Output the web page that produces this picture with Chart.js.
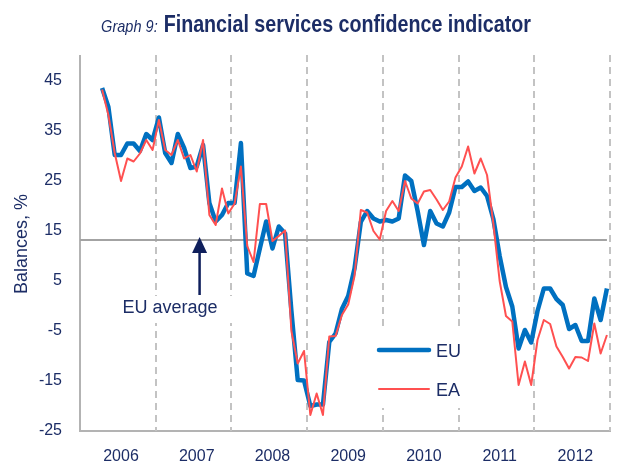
<!DOCTYPE html>
<html>
<head>
<meta charset="utf-8">
<script src="https://cdn.jsdelivr.net/npm/chart.js@4.4.1/dist/chart.umd.min.js"></script>
<style>
  html, body { margin: 0; padding: 0; background: #fff; }
  canvas { display: block; }
</style>
</head>
<body>
<canvas id="chart" width="623" height="468"></canvas>
<script>
// Graph 9: Financial services confidence indicator (monthly balances, %)
const years = ['2006', '2007', '2008', '2009', '2010', '2011', '2012']
const monthNames = ['Jan', 'Feb', 'Mar', 'Apr', 'May', 'Jun', 'Jul', 'Aug', 'Sep', 'Oct', 'Nov', 'Dec']
const months = years.flatMap((y) => monthNames.map((m) => m + ' ' + y))

const euValues = [
  null, null, null, 43.6, 39.8, 30.2, 30.2, 32.5, 32.5, 31.0, 34.4, 33.2,
  37.7, 30.6, 28.6, 34.4, 31.6, 27.6, 27.9, 32.2, 20.6, 16.9, 18.2, 20.6,
  20.6, 32.6, 6.5, 6.0, 11.5, 16.9, 11.5, 15.9, 14.5, -1.0, -14.8, -14.9,
  -20.0, -19.7, -19.7, -7.2, -5.5, -0.6, 2.0, 7.5, 16.8, 19.0, 17.5, 16.9,
  17.2, 16.9, 17.5, 26.1, 25.0, 19.0, 12.2, 19.0, 16.5, 15.9, 18.7, 23.8,
  23.8, 24.9, 23.0, 23.7, 22.0, 17.4, 10.0, 3.8, -0.1, -8.5, -4.8, -7.3,
  -1.0, 3.5, 3.5, 1.4, 0.2, -4.6, -3.8, -7.0, -7.0, 1.5, -2.8, 3.5
]
const eaValues = [
  null, null, null, 43.3, 38.2, 30.6, 25.0, 29.5, 28.9, 30.5, 33.2, 31.2,
  37.2, 31.2, 30.2, 33.2, 29.5, 30.2, 26.9, 33.2, 18.2, 16.2, 23.5, 18.5,
  20.5, 27.9, 12.0, 8.8, 20.4, 20.4, 13.0, 14.0, 15.1, -5.0, -11.5, -9.0,
  -21.8, -17.5, -21.8, -6.1, -6.0, -1.8, 0.3, 6.0, 19.2, 18.7, 15.0, 13.3,
  19.0, 21.0, 19.0, 25.0, 21.5, 20.5, 22.9, 23.2, 21.3, 19.2, 20.9, 25.7,
  27.9, 31.9, 26.5, 29.5, 26.2, 16.5, 5.0, -2.0, -3.1, -15.8, -11.1, -15.8,
  -6.8, -2.8, -3.6, -8.1, -10.2, -12.5, -10.2, -10.3, -11.0, -3.5, -9.5, -5.8
]
const euAverage = 13.2
const yTicks = [-25, -15, -5, 5, 15, 25, 35, 45]

const NAVY = '#1c2d66'
const FONT = '"Liberation Sans", Arial, sans-serif'

// year separators, EU-average line, arrow note, legend and title
const decor = {
  id: 'decor',
  beforeDatasetsDraw(chart) {
    const { ctx, chartArea: a, scales: { x, y } } = chart
    ctx.save()
    ctx.strokeStyle = '#c3c3c3'
    ctx.lineWidth = 2
    ctx.setLineDash([7, 5])
    for (let i = 12; i <= months.length; i += 12) {
      const px = Math.round(x.getPixelForValue(i - 0.5))
      ctx.beginPath(); ctx.moveTo(px, a.top - 1); ctx.lineTo(px, a.bottom); ctx.stroke()
    }
    ctx.setLineDash([])

    // white boxes behind the note and the legend (they cut the dashed lines)
    ctx.fillStyle = '#fff'
    ctx.fillRect(118, 296, 118, 27)
    ctx.fillRect(372, 330, 100, 78)

    // EU average
    const ay = Math.round(y.getPixelForValue(euAverage))
    ctx.strokeStyle = '#a3a3a3'
    ctx.lineWidth = 2
    ctx.beginPath(); ctx.moveTo(a.left, ay); ctx.lineTo(x.getPixelForValue(months.length - 1), ay); ctx.stroke()
    ctx.restore()
  },
  afterDatasetsDraw(chart) {
    const { ctx, scales: { x, y } } = chart
    ctx.save()
    // arrow pointing at the average line
    const ax = x.getPixelForValue(18.45)
    const tip = y.getPixelForValue(euAverage) - 3
    ctx.fillStyle = '#0f1f5c'
    ctx.strokeStyle = '#0f1f5c'
    ctx.lineWidth = 2.5
    ctx.beginPath(); ctx.moveTo(ax, tip + 12); ctx.lineTo(ax, 295); ctx.stroke()
    ctx.beginPath(); ctx.moveTo(ax, tip); ctx.lineTo(ax - 7.5, tip + 16); ctx.lineTo(ax + 7.5, tip + 16); ctx.closePath(); ctx.fill()

    ctx.fillStyle = NAVY
    ctx.font = '18px ' + FONT
    ctx.textAlign = 'center'
    ctx.textBaseline = 'middle'
    ctx.fillText('EU average', 170, 308)

    // legend
    chart.data.datasets.forEach((ds, i) => {
      const ly = 350 + i * 39
      ctx.strokeStyle = ds.borderColor
      ctx.lineWidth = ds.borderWidth
      ctx.lineCap = 'round'
      ctx.beginPath(); ctx.moveTo(379, ly); ctx.lineTo(429, ly); ctx.stroke()
      ctx.fillStyle = NAVY
      ctx.textAlign = 'left'
      ctx.font = '18px ' + FONT
      ctx.fillText(ds.label, 436, ly + 2)
    })

    // axis title
    ctx.translate(22, 244)
    ctx.rotate(-Math.PI / 2)
    ctx.textAlign = 'center'
    ctx.font = '18px ' + FONT
    ctx.fillText('Balances, %', 0, 0)
    ctx.restore()

    // title, condensed horizontally like the narrow face of the original
    ctx.save()
    const t1 = 'Graph 9:'
    const t2 = 'Financial services confidence indicator'
    const squeeze = 0.855
    ctx.font = 'italic 17px ' + FONT
    const w1 = ctx.measureText(t1).width * squeeze
    ctx.font = 'bold 23px ' + FONT
    const w2 = ctx.measureText(t2).width * squeeze
    const gap = 6
    const tx = 316 - (w1 + gap + w2) / 2
    ctx.fillStyle = NAVY
    ctx.textBaseline = 'alphabetic'
    ctx.textAlign = 'left'
    ctx.translate(tx, 32)
    ctx.scale(squeeze, 1)
    ctx.font = 'italic 17px ' + FONT
    ctx.fillText(t1, 0, 0)
    ctx.font = 'bold 23px ' + FONT
    ctx.fillText(t2, (w1 + gap) / squeeze, 0)
    ctx.restore()
  }
}

new Chart(document.getElementById('chart'), {
  type: 'line',
  data: {
    labels: months,
    datasets: [
      { label: 'EU', data: euValues, borderColor: '#0070c0', borderWidth: 4.5, order: 2 },
      { label: 'EA', data: eaValues, borderColor: '#ff5050', borderWidth: 2, order: 1 },
    ],
  },
  options: {
    responsive: false,
    animation: false,
    devicePixelRatio: 1,
    layout: { padding: { top: 56, right: 11, left: 0, bottom: 0 } },
    elements: { point: { radius: 0 }, line: { tension: 0, borderJoinStyle: 'round' } },
    plugins: { legend: { display: false }, title: { display: false }, tooltip: { enabled: false } },
    scales: {
      x: {
        type: 'category',
        offset: true,
        grid: { display: false, drawTicks: false },
        border: { display: true, color: '#b3b3b3', width: 2 },
        ticks: {
          autoSkip: false, maxRotation: 0, padding: 16,
          color: NAVY, font: { family: FONT, size: 16 },
          callback: (v, i) => (i % 12 === 6 ? years[Math.floor(i / 12)] : ''),
        },
        afterFit: (s) => { s.height = 37 },
      },
      y: {
        min: -25,
        max: 50,
        grid: { display: false, drawTicks: false },
        border: { display: true, color: '#b3b3b3', width: 2 },
        ticks: { padding: 18, color: NAVY, font: { family: FONT, size: 16 } },
        afterBuildTicks: (s) => { s.ticks = yTicks.map((v) => ({ value: v })) },
        afterFit: (s) => { s.width = 80 },
      },
    },
  },
  plugins: [decor],
})
</script>
</body>
</html>
